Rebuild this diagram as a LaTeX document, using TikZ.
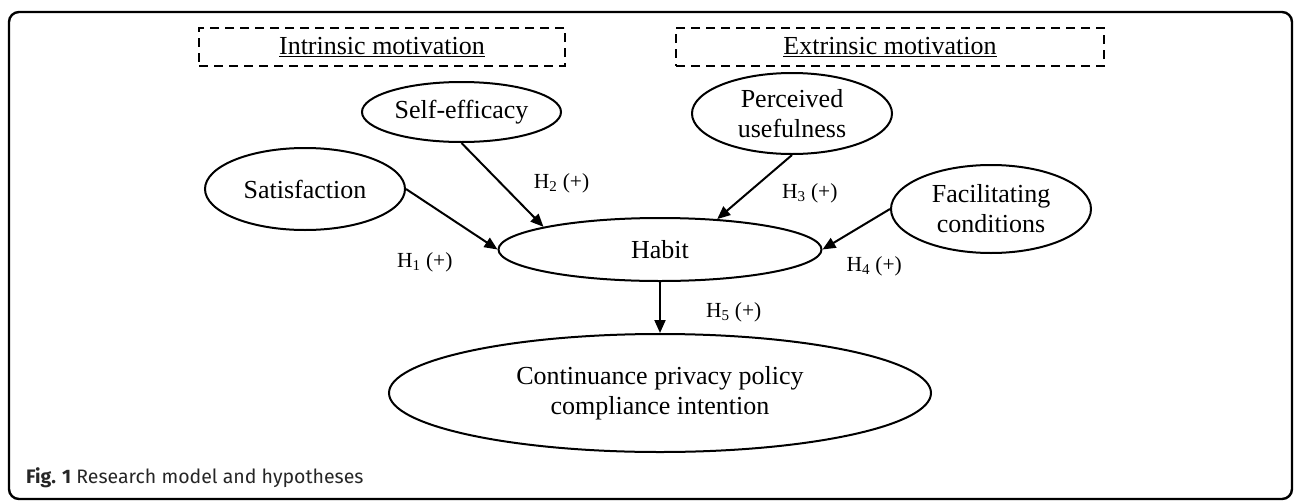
\documentclass[tikz,border=0pt]{standalone}
\usepackage{fontspec}
\setmainfont{Liberation Serif}
\setsansfont{Fira Sans}
\usepackage{tikz}
\usetikzlibrary{arrows.meta,shapes.geometric,positioning}
\tikzstyle{construct}=[ellipse,draw,line width=2pt,inner sep=0pt,align=center,font=\fontsize{26}{30}\selectfont]
\tikzstyle{group}=[draw,dash pattern=on 9pt off 6pt,line width=1.8pt,minimum height=38pt,font=\fontsize{26}{30}\selectfont]
\tikzstyle{arrow}=[line width=2pt,-{Triangle[length=13pt,width=11pt]}]
\tikzstyle{hyp}=[font=\fontsize{21.5}{24}\selectfont,inner sep=2pt]

\begin{document}
\begin{tikzpicture}[x=1pt,y=-1pt]
    \useasboundingbox (0,0) rectangle (1296,501);
    \draw[line width=2.4pt,rounded corners=10pt] (9,12) rectangle (1292,499);

    \node (I) [group,minimum width=366pt] at (382,47) {\underline{Intrinsic motivation}};
    \node (X) [group,minimum width=428pt] at (890,47) {\underline{Extrinsic motivation}};

    \node (E) [construct,minimum width=199pt,minimum height=60pt] at (461.5,112) {Self-efficacy};
    \node (S) [construct,minimum width=200pt,minimum height=82pt] at (305,189) {Satisfaction};
    \node (U) [construct,minimum width=200pt,minimum height=81pt] at (792,113.5) {Perceived\\usefulness};
    \node (F) [construct,minimum width=200pt,minimum height=88pt] at (991,209) {Facilitating\\conditions};
    \node (H) [construct,minimum width=323pt,minimum height=63pt] at (660,249.5) {Habit};
    \node (C) [construct,minimum width=542pt,minimum height=118pt] [below=51pt of H] {Continuance privacy policy\\compliance intention};

    \path[arrow] (S.east) edge node[hyp,at end,left=42pt,yshift=-13pt] {H\textsubscript{1} (+)} (H.west);
    \path[arrow] (E.south) edge node[hyp,pos=.48,right=30pt] {H\textsubscript{2} (+)} (H.169);
    \path[arrow] (U.south) edge node[hyp,pos=.6,right=32pt] {H\textsubscript{3} (+)} (H.28);
    \path[arrow] (F.west) edge node[hyp,at end,right=21pt,yshift=-17pt] {H\textsubscript{4} (+)} (H.east);
    \path[arrow] (H.south) edge node[hyp,pos=.6,right=43pt] {H\textsubscript{5} (+)} (C.north);

    \node (cap) [anchor=base west,inner sep=0pt,font=\sffamily\fontsize{19.5}{23}\selectfont,text=black!85] at (26,483) {\textbf{Fig. 1} Research model and hypotheses};
\end{tikzpicture}
\end{document}
